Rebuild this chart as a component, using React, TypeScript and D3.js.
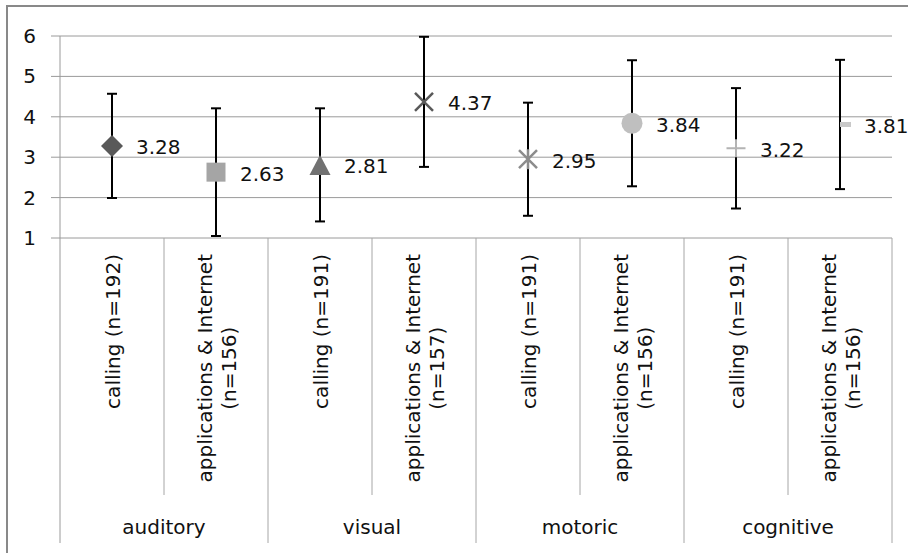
import * as d3 from 'd3';
import { useEffect, useRef } from 'react';

// values
const groups = ['auditory', 'visual', 'motoric', 'cognitive'];
const subLabels = [
  ['calling (n=192)'],
  ['applications & Internet', '(n=156)'],
  ['calling (n=191)'],
  ['applications & Internet', '(n=157)'],
  ['calling (n=191)'],
  ['applications & Internet', '(n=156)'],
  ['calling (n=191)'],
  ['applications & Internet', '(n=156)'],
];
const means = [3.28, 2.63, 2.81, 4.37, 2.95, 3.84, 3.22, 3.81];
const errors = [1.29, 1.58, 1.4, 1.61, 1.4, 1.56, 1.49, 1.6];
const markers = ['diamond', 'square', 'triangle', 'x', 'star', 'circle', 'plus', 'dash'];
const yTicks = [1, 2, 3, 4, 5, 6];

const W = 908;
const H = 553;
const FONT = 'DejaVu Sans';

export default function App() {
  const ref = useRef<SVGSVGElement>(null);

  useEffect(() => {
    const svg = d3.select(ref.current);
    svg.selectAll('*').remove();

    const left = 60;
    const right = 892;
    const top = 36;
    const bottom = 238;
    const subBottom = 495;
    const groupBottom = 543;

    const y = d3.scaleLinear().domain([1, 6]).range([bottom, top]);
    const x = d3
      .scaleBand<number>()
      .domain(d3.range(means.length))
      .range([left, right]);
    const xg = d3.scaleBand<string>().domain(groups).range([left, right]);
    const cx = (i: number) => (x(i) as number) + x.bandwidth() / 2;

    // chart border (runs off the right and bottom edge)
    svg
      .append('rect')
      .attr('x', 7)
      .attr('y', 6)
      .attr('width', W + 20)
      .attr('height', H + 20)
      .attr('fill', 'white')
      .attr('stroke', '#898989')
      .attr('stroke-width', 2);

    // gridlines + ticks
    svg
      .selectAll('line.grid')
      .data(yTicks)
      .enter()
      .append('line')
      .attr('x1', 51)
      .attr('x2', right)
      .attr('y1', (d) => y(d))
      .attr('y2', (d) => y(d))
      .attr('stroke', '#9a9a9a')
      .attr('stroke-width', 1);

    svg
      .selectAll('text.ytick')
      .data(yTicks)
      .enter()
      .append('text')
      .attr('x', 36)
      .attr('y', (d) => y(d) + 7)
      .attr('text-anchor', 'end')
      .attr('font-family', FONT)
      .attr('font-size', 20)
      .attr('fill', '#111')
      .text((d) => d);

    // y axis line
    svg
      .append('line')
      .attr('x1', left)
      .attr('x2', left)
      .attr('y1', top)
      .attr('y2', groupBottom)
      .attr('stroke', '#9a9a9a');

    // category separators
    svg
      .selectAll('line.sep')
      .data(d3.range(1, means.length + 1))
      .enter()
      .append('line')
      .attr('x1', (i) => left + i * x.bandwidth())
      .attr('x2', (i) => left + i * x.bandwidth())
      .attr('y1', bottom)
      .attr('y2', (i) => (i % 2 === 0 ? groupBottom : subBottom))
      .attr('stroke', '#a6a6a6');

    // rotated sub-category labels
    subLabels.forEach((lines, i) => {
      const g = svg.append('g');
      const offsets = lines.length === 1 ? [8] : [-4, 20];
      const t0 = g
        .append('text')
        .attr('font-family', FONT)
        .attr('font-size', 20)
        .attr('fill', '#111')
        .attr('text-anchor', 'end')
        .attr('transform', `translate(${cx(i) + offsets[0]},254) rotate(-90)`)
        .text(lines[0]);
      const len = (t0.node() as SVGTextElement).getComputedTextLength();
      if (lines.length > 1) {
        g.append('text')
          .attr('font-family', FONT)
          .attr('font-size', 20)
          .attr('fill', '#111')
          .attr('text-anchor', 'middle')
          .attr('transform', `translate(${cx(i) + offsets[1]},${254 + len / 2}) rotate(-90)`)
          .text(lines[1]);
      }
    });

    // group labels
    svg
      .selectAll('text.group')
      .data(groups)
      .enter()
      .append('text')
      .attr('x', (d) => (xg(d) as number) + xg.bandwidth() / 2)
      .attr('y', 534)
      .attr('text-anchor', 'middle')
      .attr('font-family', FONT)
      .attr('font-size', 20)
      .attr('fill', '#111')
      .text((d) => d);

    // error bars
    const eb = svg.append('g').attr('stroke', '#000').attr('stroke-width', 2);
    means.forEach((m, i) => {
      const lo = y(m - errors[i]);
      const hi = y(m + errors[i]);
      eb.append('line').attr('x1', cx(i)).attr('x2', cx(i)).attr('y1', lo).attr('y2', hi);
      eb.append('line').attr('x1', cx(i) - 5).attr('x2', cx(i) + 5).attr('y1', lo).attr('y2', lo);
      eb.append('line').attr('x1', cx(i) - 5).attr('x2', cx(i) + 5).attr('y1', hi).attr('y2', hi);
    });

    // markers
    means.forEach((m, i) => {
      const px = cx(i);
      const py = y(m);
      const g = svg.append('g').attr('transform', `translate(${px},${py})`);
      const kind = markers[i];
      if (kind === 'diamond') {
        g.append('path').attr('d', 'M0,-11L11,0L0,11L-11,0Z').attr('fill', '#595959');
      } else if (kind === 'square') {
        g.append('rect').attr('x', -9.5).attr('y', -9.5).attr('width', 19).attr('height', 19).attr('fill', '#a5a5a5');
      } else if (kind === 'triangle') {
        g.append('path').attr('d', 'M0,-10L10.5,10L-10.5,10Z').attr('fill', '#717171');
      } else if (kind === 'x') {
        g.append('path')
          .attr('d', 'M-9,-9L9,9M9,-9L-9,9')
          .attr('stroke', '#595959')
          .attr('stroke-width', 2.5);
      } else if (kind === 'star') {
        g.append('path')
          .attr('d', 'M-9,-9L9,9M9,-9L-9,9M0,-10L0,10')
          .attr('stroke', '#8c8c8c')
          .attr('stroke-width', 2.5);
      } else if (kind === 'circle') {
        g.append('circle').attr('r', 10.5).attr('fill', '#bfbfbf');
      } else if (kind === 'plus') {
        g.append('path')
          .attr('d', 'M-9.5,0L9.5,0M0,-9L0,9')
          .attr('stroke', '#b3b3b3')
          .attr('stroke-width', 2);
      } else if (kind === 'dash') {
        g.append('rect').attr('x', 0).attr('y', -2.5).attr('width', 11).attr('height', 5).attr('fill', '#c8c8c8');
      }
    });

    // data labels
    svg
      .selectAll('text.val')
      .data(means)
      .enter()
      .append('text')
      .attr('x', (d, i) => cx(i) + 24)
      .attr('y', (d) => y(d) + 8.5)
      .attr('font-family', FONT)
      .attr('font-size', 20)
      .attr('fill', '#111')
      .text((d) => d.toFixed(2));
  }, []);

  return (
    <svg
      ref={ref}
      width={W}
      height={H}
      style={{ position: 'absolute', left: 0, top: 0, background: 'white' }}
    />
  );
}
